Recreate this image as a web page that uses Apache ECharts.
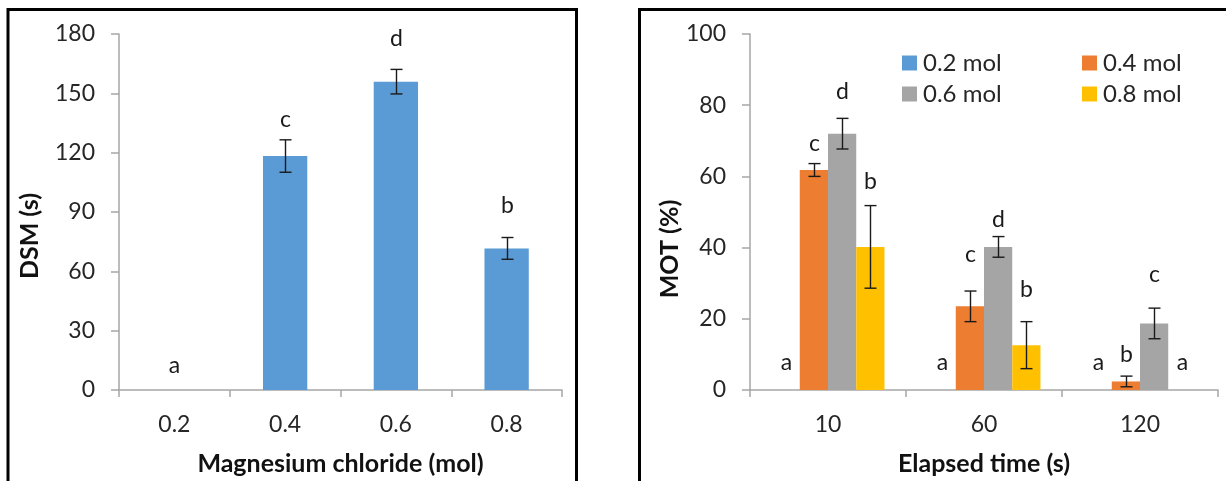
<!DOCTYPE html>
<html>
<head>
<meta charset="utf-8">
<script src="https://cdn.jsdelivr.net/npm/echarts@6/dist/echarts.min.js"></script>
<style>
html,body{margin:0;padding:0;background:#fff;}
#chart{width:1226px;height:481px;}
</style>
</head>
<body>
<div id="chart"></div>
<script>
// ---- Left chart data (DSM) ----
const dsmCategories = ['0.2', '0.4', '0.6', '0.8'];
const dsmValues = [0, 118.3, 155.9, 71.6];
const dsmErrors = [0, 8.2, 6.2, 5.5];
const dsmLetters = ['a', 'c', 'd', 'b'];
const dsmLetterY = [12.6, 136.5, 177.5, 93];
const dsmTicks = [0, 30, 60, 90, 120, 150, 180];

// ---- Right chart data (MOT) ----
const motCategories = ['10', '60', '120'];
const motNames = ['0.2 mol', '0.4 mol', '0.6 mol', '0.8 mol'];
const mot02 = [0, 0, 0];
const mot04 = [61.8, 23.5, 2.4];
const mot06 = [72.0, 40.2, 18.7];
const mot08 = [40.2, 12.6, 0];
const mot02Err = [0, 0, 0];
const mot04Err = [1.8, 4.3, 1.5];
const mot06Err = [4.3, 2.9, 4.3];
const mot08Err = [11.6, 6.6, 0];
const mot02Letters = ['a', 'a', 'a'];
const mot04Letters = ['c', 'c', 'b'];
const mot06Letters = ['d', 'd', 'c'];
const mot08Letters = ['b', 'b', 'a'];
const mot02LetterY = [7.7, 7.7, 7.7];
const mot04LetterY = [69.1, 37.9, 10.0];
const mot06LetterY = [83.8, 47.8, 32.5];
const mot08LetterY = [58.5, 28.1, 7.7];
const motTicks = [0, 20, 40, 60, 80, 100];

const colors = ['#5B9BD5', '#ED7D31', '#A5A5A5', '#FFC000'];
const FONT = 'Lato';
const TXT = '#262626';
const AXIS = '#a6a6a6';
const FS = 23;

const chart = echarts.init(document.getElementById('chart'), null, {renderer: 'canvas'});

const motValues = [mot02, mot04, mot06, mot08];
const motErrs = [mot02Err, mot04Err, mot06Err, mot08Err];
const motLetters = [mot02Letters, mot04Letters, mot06Letters, mot08Letters];
const motLetterYs = [mot02LetterY, mot04LetterY, mot06LetterY, mot08LetterY];

const CAT_GAP_R = 0.276;

function errRender(seriesPos, nSeries, catGap, letters) {
  return function (params, api) {
    const cat = api.value(0), v = api.value(1), e = api.value(2), ly = api.value(3);
    const letter = letters[params.dataIndex];
    const catW = api.size([1, 0])[0];
    const barW = catW * (1 - catGap) / nSeries;
    const offset = (seriesPos - (nSeries - 1) / 2) * barW;
    const c = api.coord([cat, v]);
    const x = Math.round(c[0] + offset) + 0.5;
    const children = [];
    if (e > 0) {
      const yt = api.coord([cat, v + e])[1];
      const yb = api.coord([cat, v - e])[1];
      const cw = 6;
      const st = {stroke: '#1a1a1a', lineWidth: 1.4};
      children.push({type: 'line', shape: {x1: x, y1: yt, x2: x, y2: yb}, style: st});
      children.push({type: 'line', shape: {x1: x - cw, y1: yt, x2: x + cw, y2: yt}, style: st});
      children.push({type: 'line', shape: {x1: x - cw, y1: yb, x2: x + cw, y2: yb}, style: st});
    }
    const lyPix = api.coord([cat, ly])[1];
    children.push({
      type: 'text',
      style: {
        text: letter, x: x, y: lyPix,
        textAlign: 'center', textVerticalAlign: 'middle',
        font: FS + 'px ' + FONT, fill: '#1a1a1a'
      }
    });
    return {type: 'group', children: children};
  };
}

const series = [];
// Left bars
series.push({
  type: 'bar', xAxisIndex: 0, yAxisIndex: 0,
  data: dsmValues, barCategoryGap: '60%',
  itemStyle: {color: colors[0]}, silent: true
});
series.push({
  type: 'custom', xAxisIndex: 0, yAxisIndex: 0,
  renderItem: errRender(0, 1, 0.6, dsmLetters),
  encode: {x: 0, y: 1},
  data: dsmCategories.map((c, i) => [i, dsmValues[i], dsmErrors[i], dsmLetterY[i]]),
  z: 5, silent: true
});
// Right bars
motNames.forEach((n, s) => {
  series.push({
    type: 'bar', name: n, xAxisIndex: 1, yAxisIndex: 1,
    data: motValues[s], barGap: '0%', barCategoryGap: (CAT_GAP_R * 100) + '%',
    itemStyle: {color: colors[s]}, silent: true
  });
});
motNames.forEach((n, s) => {
  series.push({
    type: 'custom', xAxisIndex: 1, yAxisIndex: 1,
    renderItem: errRender(s, 4, CAT_GAP_R, motLetters[s]),
    encode: {x: 0, y: 1},
    data: motCategories.map((c, i) => [i, motValues[s][i], motErrs[s][i], motLetterYs[s][i]]),
    z: 5, silent: true
  });
});

const legendPos = [[897, 46], [1077, 46], [897, 77], [1077, 77]];
const legends = motNames.map((n, i) => ({
  data: [n], left: legendPos[i][0], top: legendPos[i][1],
  icon: 'rect', itemWidth: 15, itemHeight: 15, itemGap: 0,
  selectedMode: false,
  textStyle: {fontFamily: FONT, fontSize: 24, color: TXT, padding: [0, 0, 0, 1]}
}));

function xAxisCfg(grid, cats, name) {
  return {
    type: 'category', gridIndex: grid, data: cats,
    name: name, nameLocation: 'middle', nameGap: 61,
    nameTextStyle: {fontFamily: FONT, fontSize: 25, fontWeight: 'bold', color: '#111'},
    axisLine: {lineStyle: {color: AXIS, width: 1.5}},
    axisTick: {show: true, length: 7, lineStyle: {color: AXIS, width: 1.5}},
    axisLabel: {margin: 23, fontFamily: FONT, fontSize: FS, color: TXT},
    splitLine: {show: false}
  };
}
function yAxisCfg(grid, max, interval) {
  return {
    type: 'value', gridIndex: grid, min: 0, max: max, interval: interval,
    axisLine: {show: true, lineStyle: {color: AXIS, width: 1.5}},
    axisTick: {show: true, length: 8, lineStyle: {color: AXIS, width: 1.5}},
    axisLabel: {margin: 24, fontFamily: FONT, fontSize: FS, color: TXT},
    splitLine: {show: false}
  };
}

const option = {
  animation: false,
  backgroundColor: '#fff',
  grid: [
    {left: 119, top: 34, width: 443, height: 356},
    {left: 750, top: 34, width: 468, height: 356}
  ],
  xAxis: [
    xAxisCfg(0, dsmCategories, 'Magnesium chloride (mol)'),
    xAxisCfg(1, motCategories, 'Elapsed time (s)')
  ],
  yAxis: [
    yAxisCfg(0, dsmTicks[dsmTicks.length - 1], dsmTicks[1] - dsmTicks[0]),
    yAxisCfg(1, motTicks[motTicks.length - 1], motTicks[1] - motTicks[0])
  ],
  legend: legends,
  series: series,
  graphic: [
    {type: 'rect', shape: {x: 8, y: 9.5, width: 568.5, height: 520}, style: {fill: 'none', stroke: '#000', lineWidth: 3}, silent: true, z: 100},
    {type: 'rect', shape: {x: 639.5, y: 9.5, width: 620, height: 520}, style: {fill: 'none', stroke: '#000', lineWidth: 3}, silent: true, z: 100},
    {type: 'text', x: 30, y: 236, rotation: Math.PI / 2,
      style: {text: 'DSM (s)', textAlign: 'center', textVerticalAlign: 'middle', font: 'bold 25px ' + FONT, fill: '#111'}},
    {type: 'text', x: 670, y: 249, rotation: Math.PI / 2,
      style: {text: 'MOT (%)', textAlign: 'center', textVerticalAlign: 'middle', font: 'bold 25px ' + FONT, fill: '#111'}}
  ]
};
chart.setOption(option);
</script>
</body>
</html>
